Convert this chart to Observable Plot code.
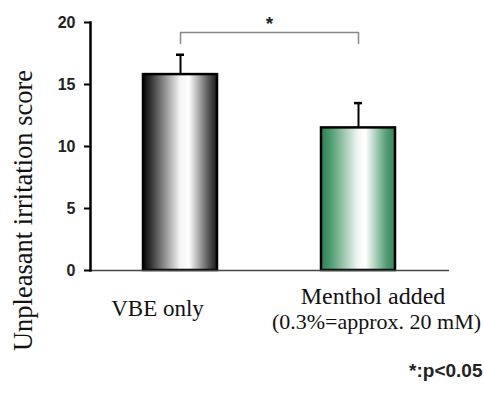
<!DOCTYPE html>
<html>
<head>
<meta charset="utf-8">
<script src="https://cdn.jsdelivr.net/npm/d3@7"></script>
<script src="https://cdn.jsdelivr.net/npm/@observablehq/plot@0.6"></script>
<style>
  html, body { margin: 0; padding: 0; background: #fff; }
  #chart svg { display: block; }
</style>
</head>
<body>
<div id="chart"></div>
<script>
// ---- data ----
const categories = ["VBE only", "Menthol added"];
const labelLine1 = ["VBE only", "Menthol added"];
const labelLine2 = ["", "(0.3%=approx. 20 mM)"];
const means = [15.8, 11.5];
const errors = [1.6, 2.0];
const gradients = ["url(#gradBlack)", "url(#gradGreen)"];
const yTicks = [0, 5, 10, 15, 20];
const yTitle = "Unpleasant irritation score";
const bracketLow = 18.3, bracketHigh = 19.2, starValue = 19.9;
const footnote = "*:p<0.05";

const data = categories.map((c, i) => ({
  cat: c, l1: labelLine1[i], l2: labelLine2[i], mean: means[i], err: errors[i], top: means[i] + errors[i], fill: gradients[i]
}));
const bracket = [
  {cat: categories[0], v: bracketLow},
  {cat: categories[0], v: bracketHigh},
  {cat: categories[1], v: bracketHigh},
  {cat: categories[1], v: bracketLow}
];

const serif = "'Liberation Serif', 'Times New Roman', serif";
const sans = "'Liberation Sans', Arial, sans-serif";

const chart = Plot.plot({
  width: 484,
  height: 394,
  marginTop: 22,
  marginBottom: 124,
  marginLeft: 90,
  marginRight: 35,
  style: {fontFamily: sans, background: "#fff"},
  x: {domain: categories, paddingInner: 0.584, paddingOuter: 0.298, axis: null},
  y: {domain: [0, 20], axis: null},
  marks: [
    Plot.barY(data, {x: "cat", y: "mean", fill: "fill", stroke: "#000", strokeWidth: 2.5}),
    Plot.ruleY([0], {stroke: "#444", strokeWidth: 1.5}),
    Plot.ruleX(data, {x: "cat", y1: "mean", y2: "top", stroke: "#000", strokeWidth: 2}),
    Plot.tickY(data, {x: "cat", y: "top", stroke: "#000", strokeWidth: 2.5, insetLeft: 33, insetRight: 33}),
    Plot.line(bracket, {x: "cat", y: "v", stroke: "#888", strokeWidth: 1.5}),
    Plot.text([starValue], {x: () => categories[0], y: d => d, text: () => "*", dx: 89, fontSize: 19, fontWeight: "bold", fill: "#222", fontFamily: sans}),
    Plot.axisY({ticks: yTicks, tickSize: 6, tickPadding: 9, strokeWidth: 2, stroke: "#000", fontSize: 16, fontWeight: "bold", fill: "#222", fontFamily: sans, label: null}),
    Plot.frame({anchor: "left", stroke: "#000", strokeWidth: 2.5}),
    Plot.text([yTitle], {frameAnchor: "left", textAnchor: "middle", lineAnchor: "middle", rotate: -90, dx: -67, dy: 64, fontSize: 26.5, fontFamily: serif, fill: "#111"}),
    Plot.text([data[0]], {x: "cat", y: () => 0, text: "l1", dx: -23, dy: 38, fontSize: 23, fontFamily: serif, fill: "#111"}),
    Plot.text([data[1]], {x: "cat", y: () => 0, text: "l1", dx: 14.5, dy: 26, fontSize: 24, fontFamily: serif, fill: "#111"}),
    Plot.text([data[1]], {x: "cat", y: () => 0, text: "l2", dx: 18, dy: 51, fontSize: 22, fontFamily: serif, fill: "#111"}),
    Plot.text([footnote], {frameAnchor: "bottom-right", textAnchor: "end", lineAnchor: "middle", dx: 33, dy: 100, fontSize: 19, fontWeight: "bold", fontFamily: sans, fill: "#222", style: "letter-spacing:3px"})
  ]
});

// gradient definitions for the bar fills
const ns = "http://www.w3.org/2000/svg";
const defs = document.createElementNS(ns, "defs");
defs.innerHTML = `
  <linearGradient id="gradBlack" x1="0" x2="1" y1="0" y2="0">
    <stop offset="0" stop-color="#050505"/>
    <stop offset="0.12" stop-color="#3a3a3a"/>
    <stop offset="0.5" stop-color="#f4f4f4"/>
    <stop offset="0.62" stop-color="#ffffff"/>
    <stop offset="0.88" stop-color="#5a5a5a"/>
    <stop offset="1" stop-color="#1a1a1a"/>
  </linearGradient>
  <linearGradient id="gradGreen" x1="0" x2="1" y1="0" y2="0">
    <stop offset="0" stop-color="#2f7f55"/>
    <stop offset="0.12" stop-color="#4a9a6e"/>
    <stop offset="0.5" stop-color="#f2f7f3"/>
    <stop offset="0.6" stop-color="#ffffff"/>
    <stop offset="0.88" stop-color="#559e76"/>
    <stop offset="1" stop-color="#35825a"/>
  </linearGradient>`;
chart.insertBefore(defs, chart.firstChild);
document.getElementById("chart").appendChild(chart);
</script>
</body>
</html>
